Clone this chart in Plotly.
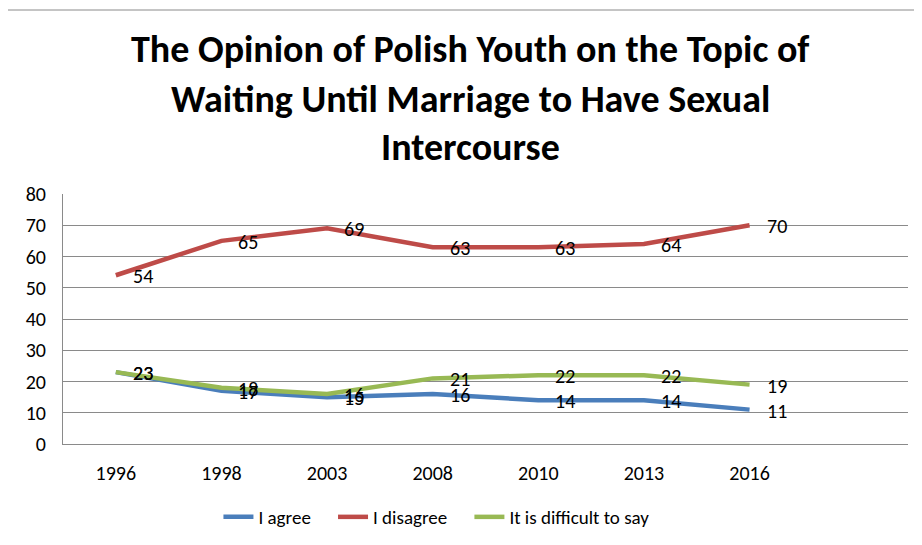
import plotly.graph_objects as go

years = ['1996', '1998', '2003', '2008', '2010', '2013', '2016']
agree = [23, 17, 15, 16, 14, 14, 11]
disagree = [54, 65, 69, 63, 63, 64, 70]
difficult = [23, 18, 16, 21, 22, 22, 19]

title_lines = ['The Opinion of Polish Youth on the Topic of',
               'Waiting Until Marriage to Have Sexual',
               'Intercourse']

FONT = 'Carlito, Lato, sans-serif'
series = [('I agree', agree, '#4A7EBB'),
          ('I disagree', disagree, '#BE4B48'),
          ('It is difficult to say', difficult, '#98B954')]

xs = list(range(len(years)))
fig = go.Figure()
for name, vals, color in series:
    # trailing spaces widen the gap between legend entries like the original
    fig.add_trace(go.Scatter(x=xs, y=vals, name=name + '&nbsp;&nbsp;&nbsp;&nbsp;', mode='lines',
                             line=dict(color=color, width=4.5)))
    for x, v in zip(xs, vals):
        fig.add_annotation(x=x, y=v, text=str(v), showarrow=False,
                           xanchor='left', yanchor='middle', xshift=15, yshift=-1,
                           font=dict(size=20, color='black', family=FONT))

for ty, line in zip([1.58, 1.38, 1.19], title_lines):
    fig.add_annotation(x=0.482, y=ty, xref='paper', yref='paper', text='<b>%s</b>' % line,
                       showarrow=False, xanchor='center', yanchor='middle',
                       font=dict(size=38, color='black', family=FONT))

# chart area border
fig.add_shape(type='rect', xref='paper', yref='paper', x0=-0.0663, x1=1.05, y0=-0.5, y1=1.736,
              line=dict(color='#8a8a8a', width=1), layer='below')

fig.update_layout(
    width=922, height=545,
    margin=dict(l=55, r=22, t=186, b=109),
    paper_bgcolor='white', plot_bgcolor='white',
    font=dict(family=FONT, size=20, color='black'),
    showlegend=True,
    legend=dict(orientation='h', x=0.452, y=-0.292, xanchor='center', yanchor='middle',
                font=dict(size=19), itemwidth=30, tracegroupgap=0),
    xaxis=dict(tickvals=xs, ticktext=years, range=[-0.5, 7.5], showgrid=False,
               showline=True, linecolor='#8a8a8a', ticks='', ticklabelstandoff=11,
               zeroline=False, automargin=False),
    yaxis=dict(range=[0, 80], dtick=10, showgrid=True, gridcolor='#8a8a8a', gridwidth=1,
               showline=True, linecolor='#8a8a8a', ticks='', ticklabelstandoff=12,
               zeroline=False, automargin=False),
)

fig.write_html('out.html')
